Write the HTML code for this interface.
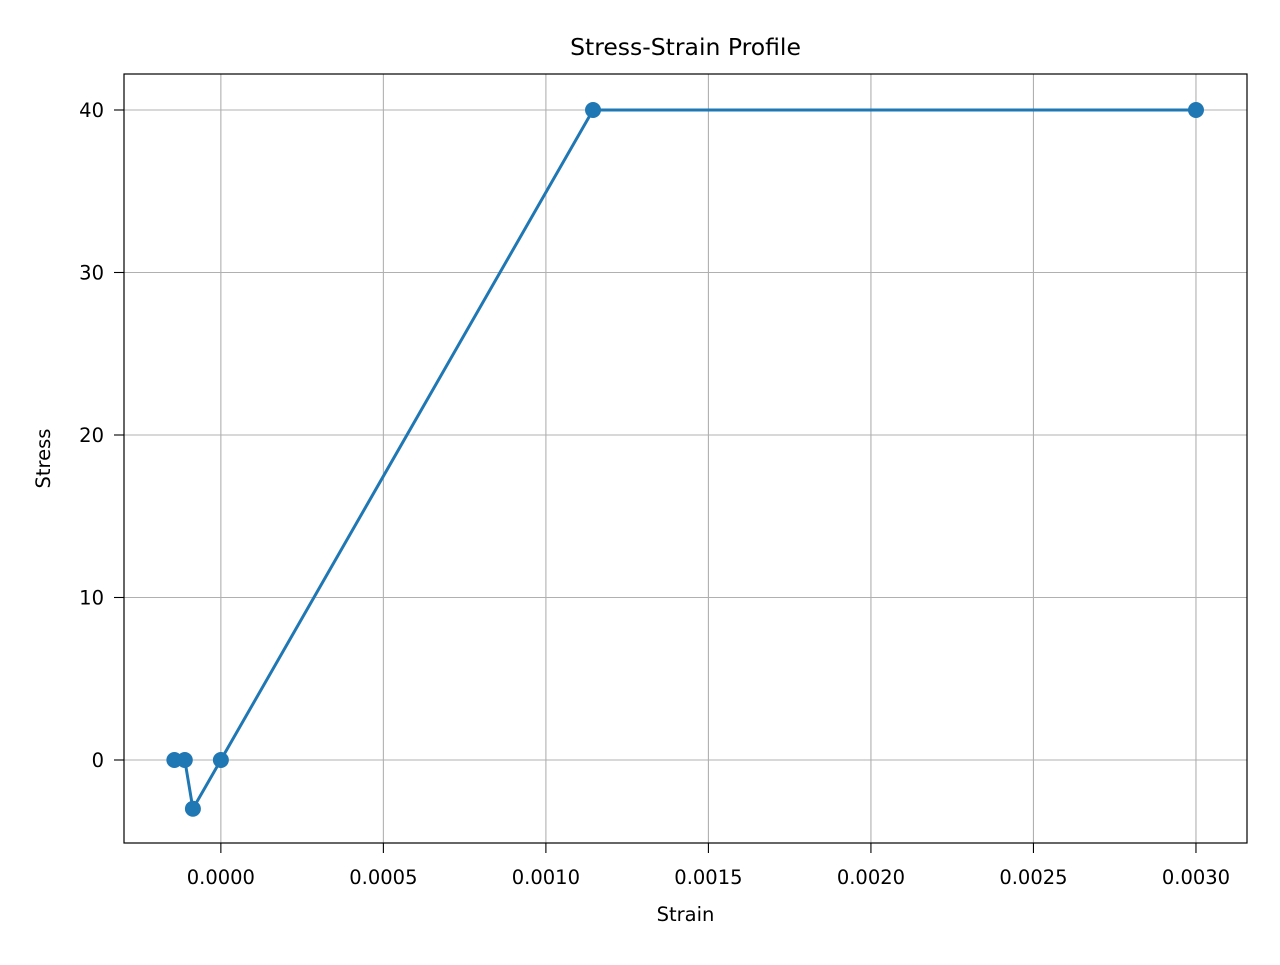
<!DOCTYPE html>
<html><head><meta charset="utf-8"><style>
body{margin:0;background:#fff;font-family:"Liberation Sans","DejaVu Sans",sans-serif}
</style></head><body>
<svg id="chart" width="1280" height="960" xmlns="http://www.w3.org/2000/svg" font-family="DejaVu Sans, Liberation Sans, sans-serif"></svg>
<script>
const strain = [-0.000143, -0.000111, -0.000086, 0, 0.001145, 0.003];
const stress = [0, 0, -3, 0, 40, 40];
const xTicks = [0, 0.0005, 0.0010, 0.0015, 0.0020, 0.0025, 0.0030];
const xTickLabels = ["0.0000","0.0005","0.0010","0.0015","0.0020","0.0025","0.0030"];
const yTicks = [0, 10, 20, 30, 40];
const yTickLabels = ["0","10","20","30","40"];

const L=124,R=1247,T=74,B=843;
const xMin=-0.000298,xMax=0.003157,yMin=-5.108,yMax=42.215;
const sx=v=>L+(v-xMin)/(xMax-xMin)*(R-L);
const sy=v=>B-(v-yMin)/(yMax-yMin)*(B-T);
const svg=document.getElementById('chart');
const NS='http://www.w3.org/2000/svg';
function mk(tag,attrs,parent){const e=document.createElementNS(NS,tag);for(const k in attrs)e.setAttribute(k,attrs[k]);(parent||svg).appendChild(e);return e;}

xTicks.forEach((t,i)=>{
  const x=sx(t);
  const g=mk('line',{x1:x,x2:x,y1:T,y2:B,stroke:'#b0b0b0','stroke-width':1.1});
  
  
  const tk=mk('line',{x1:x,x2:x,y1:B,y2:B+10,stroke:'#000','stroke-width':1.1});
  
  
  const tx=mk('text',{x:x,y:B+41,'text-anchor':'middle','font-size':19.5,fill:'#000'});
  tx.textContent=xTickLabels[i];
  
  
});
yTicks.forEach((t,i)=>{
  const y=sy(t);
  const g=mk('line',{x1:L,x2:R,y1:y,y2:y,stroke:'#b0b0b0','stroke-width':1.1});
  
  
  const tk=mk('line',{x1:L-10,x2:L,y1:y,y2:y,stroke:'#000','stroke-width':1.1});
  
  
  const tx=mk('text',{x:L-20,y:y+7,'text-anchor':'end','font-size':19.5,fill:'#000'});
  tx.textContent=yTickLabels[i];
  
  
});
const pts=strain.map((v,i)=>sx(v)+','+sy(stress[i])).join(' ');
const line=mk('polyline',{points:pts,fill:'none',stroke:'#1f77b4','stroke-width':3});


strain.forEach((v,i)=>{
  const c=mk('circle',{cx:sx(v),cy:sy(stress[i]),r:8,fill:'#1f77b4'});
  
  
});
const frame=mk('rect',{x:L,y:T,width:R-L,height:B-T,fill:'none',stroke:'#000','stroke-width':1.2});


const title=mk('text',{x:(L+R)/2,y:55,'text-anchor':'middle','font-size':23.5,fill:'#000'});
title.textContent='Stress-Strain Profile';


const xl=mk('text',{x:(L+R)/2,y:921,'text-anchor':'middle','font-size':19.5,fill:'#000'});
xl.textContent='Strain';


const yl=mk('text',{x:0,y:0,'text-anchor':'middle','font-size':19.5,fill:'#000',transform:'translate(50,'+((T+B)/2)+') rotate(-90)'});
yl.textContent='Stress';


</script>
</body></html>
